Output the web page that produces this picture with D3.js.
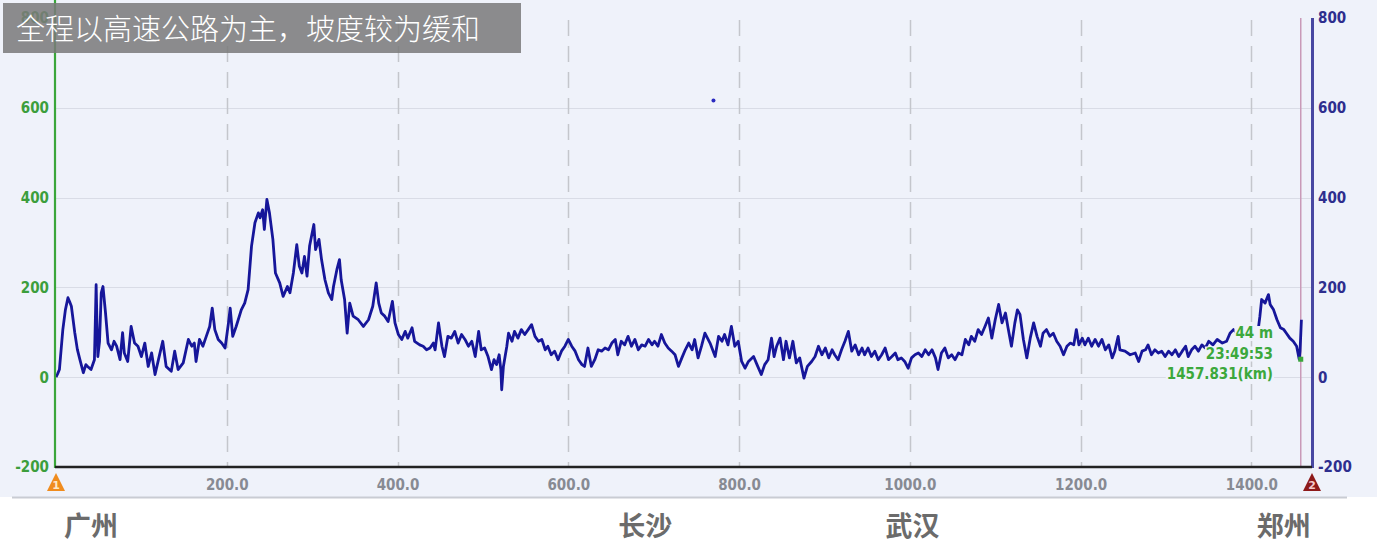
<!DOCTYPE html>
<html>
<head>
<meta charset="utf-8">
<script src="https://cdn.jsdelivr.net/npm/d3@7"></script>
<style>
  html, body { margin: 0; padding: 0; background: #fff; }
  svg { display: block; }
</style>
</head>
<body>
<svg id="chart" width="1377" height="560"></svg>
<script>
// elevation profile: distance (km) and height (m)
const profileKm = [0,2,4,8,11,14,16,18,22,25,28,32,35,37,41,45,46,47,48,49,51,53,55,58,61,65,68,71,75,78,80,84,88,92,96,100,104,108,112,116,120,125,129,135,139,143,149,155,159,162,164,168,172,176,180,183,186,190,194,198,202,204,207,211,217,221,225,229,233,237,239,242,244,247,250,254,257,262,266,271,274,278,282,285,288,291,294,297,302,304,308,311,315,319,323,325,329,332,334,338,341,344,348,354,360,366,371,375,378,381,385,389,394,397,401,405,409,412,417,420,426,430,434,438,442,444,448,452,455,459,463,467,471,475,479,483,487,491,495,498,502,506,510,513,516,519,521,522,524,528,530,534,537,541,545,549,553,557,561,565,569,573,576,580,584,588,592,596,600,604,608,612,616,619,623,627,631,635,639,643,647,651,655,658,662,666,670,674,678,682,686,690,694,698,701,705,709,713,717,721,725,729,733,737,741,745,748,752,756,760,766,772,776,780,783,787,791,795,799,803,807,811,817,821,826,830,834,838,841,844,848,852,855,859,863,867,871,876,880,885,889,893,897,901,905,909,912,916,920,924,928,932,936,940,944,947,951,955,959,963,967,971,975,979,983,986,990,994,998,1002,1006,1010,1014,1018,1022,1026,1030,1033,1037,1041,1045,1049,1053,1057,1061,1065,1069,1072,1076,1080,1084,1088,1092,1096,1100,1104,1108,1112,1115,1119,1123,1126,1129,1133,1137,1141,1145,1149,1153,1156,1160,1164,1168,1172,1176,1180,1184,1188,1192,1195,1198,1202,1205,1209,1213,1217,1221,1225,1229,1233,1237,1240,1244,1246,1252,1258,1264,1268,1272,1276,1279,1283,1287,1291,1295,1299,1303,1307,1311,1315,1319,1323,1326,1330,1334,1338,1342,1346,1350,1355,1360,1366,1371,1375,1379,1385,1391,1397,1403,1408,1410,1412,1416,1420,1422,1426,1430,1434,1438,1441,1445,1449,1453,1456,1457,1458.6];
const profileM = [0,8,17,106,150,177,168,158,99,62,39,10,28,24,17,39,120,206,120,46,80,188,202,143,76,61,80,69,39,99,54,35,113,76,69,46,76,24,54,6,39,80,24,13,58,17,32,84,69,76,35,84,69,91,113,154,106,84,76,65,121,154,91,113,150,165,195,292,344,366,355,373,329,396,366,307,232,210,180,202,188,232,295,247,232,269,225,292,340,284,307,262,217,188,173,202,240,262,217,173,98,165,136,128,113,128,158,210,165,143,136,124,169,121,95,84,102,87,110,80,72,69,61,65,76,61,121,69,46,91,87,102,76,95,84,69,80,46,102,61,65,46,17,39,28,50,17,-28,24,69,98,80,102,87,106,95,106,117,91,80,84,61,69,50,58,39,58,69,84,69,58,39,28,24,65,24,39,61,58,65,61,76,84,50,80,72,91,69,84,61,72,69,84,72,80,69,95,76,65,58,50,24,43,61,76,61,84,43,69,98,76,46,91,80,95,72,113,69,80,35,20,35,46,28,6,28,39,87,46,69,87,39,80,43,80,32,43,-2,24,35,46,69,50,65,43,61,50,39,61,80,102,58,72,50,65,50,65,46,58,39,50,65,39,46,54,39,43,35,20,43,50,54,46,61,50,61,43,17,54,65,43,50,39,54,50,84,72,91,80,106,95,113,132,87,128,162,121,143,110,69,121,150,140,84,43,87,121,91,69,98,106,91,98,80,69,50,69,76,72,106,72,87,72,87,69,84,69,84,61,72,43,58,91,61,58,50,54,35,58,61,72,50,61,54,58,46,58,50,61,46,58,69,46,61,69,58,72,65,80,72,84,76,80,98,106,95,102,98,110,106,136,173,165,184,162,150,128,110,106,98,87,80,69,40,58,128];

const xTicks = [200, 400, 600, 800, 1000, 1200, 1400];
const yTicks = [-200, 0, 200, 400, 600, 800];
const cityNames = ["广州", "长沙", "武汉", "郑州"];
const cityKm = [41, 690, 1003, 1438];
const strayPoint = [770, 616];
const endPoint = [1457.831, 40];
const endLabels = ["44 m", "23:49:53", "1457.831(km)"];
const title = "全程以高速公路为主，坡度较为缓和";

const svg = d3.select("#chart");
const x = d3.scaleLinear().domain([0, 1471]).range([56, 1312]);
const y = d3.scaleLinear().domain([-200, 800]).range([467, 18]);
const numFont = "bold 15px 'DejaVu Sans Condensed', 'DejaVu Sans', sans-serif";

// panel background
svg.append("rect").attr("x", 0).attr("y", 0).attr("width", 1377).attr("height", 497)
  .attr("fill", "#eff2fa");
svg.append("line").attr("x1", 12).attr("x2", 1347).attr("y1", 497.5).attr("y2", 497.5)
  .attr("stroke", "#c9ccd3").attr("stroke-width", 2);

// grid
svg.append("g").selectAll("line").data(yTicks.filter(d => d > -200 && d < 800)).enter()
  .append("line")
  .attr("x1", x(0)).attr("x2", 1312)
  .attr("y1", d => Math.round(y(d)) + 0.5).attr("y2", d => Math.round(y(d)) + 0.5)
  .attr("stroke", "#d9dce6").attr("stroke-width", 1);

svg.append("g").selectAll("line").data(xTicks).enter()
  .append("line")
  .attr("x1", d => Math.round(x(d)) + 0.5).attr("x2", d => Math.round(x(d)) + 0.5)
  .attr("y1", 20).attr("y2", 467)
  .attr("stroke", "#c4c6cc").attr("stroke-width", 1.5)
  .attr("stroke-dasharray", "16,10");

// end marker line
svg.append("line").attr("x1", x(endPoint[0])).attr("x2", x(endPoint[0]))
  .attr("y1", 18).attr("y2", 467).attr("stroke", "#c99ab8").attr("stroke-width", 1.5);

// profile
const line = d3.line().x((d, i) => x(profileKm[i])).y(d => y(d));
svg.append("path").datum(profileM)
  .attr("d", line)
  .attr("fill", "none").attr("stroke", "#16169a").attr("stroke-width", 2.8)
  .attr("stroke-linejoin", "round");

svg.append("circle").attr("cx", x(strayPoint[0])).attr("cy", y(strayPoint[1])).attr("r", 2)
  .attr("fill", "#2a2ac0");

// axes
const leftAxis = d3.axisLeft(y).tickValues(yTicks).tickSize(0).tickPadding(6)
  .tickFormat(d => String(d));
const gl = svg.append("g").attr("transform", "translate(55,0)").call(leftAxis);
gl.select(".domain").remove();
gl.selectAll("text").attr("fill", "#3c9e3c").style("font", numFont);
svg.append("line").attr("x1", 55).attr("x2", 55).attr("y1", 0).attr("y2", 468)
  .attr("stroke", "#3aa63a").attr("stroke-width", 2.2);

const rightAxis = d3.axisRight(y).tickValues(yTicks).tickSize(0).tickPadding(6)
  .tickFormat(d => String(d));
const gr = svg.append("g").attr("transform", "translate(1312,0)").call(rightAxis);
gr.select(".domain").remove();
gr.selectAll("text").attr("fill", "#2e2e8e").style("font", numFont);
svg.append("line").attr("x1", 1312.5).attr("x2", 1312.5).attr("y1", 18).attr("y2", 468)
  .attr("stroke", "#4848a2").attr("stroke-width", 3);

const bottomAxis = d3.axisBottom(x).tickValues(xTicks).tickSize(0).tickPadding(12)
  .tickFormat(d3.format(".1f"));
const gb = svg.append("g").attr("transform", "translate(0,467)").call(bottomAxis);
gb.select(".domain").remove();
gb.selectAll("text").attr("fill", "#878a93").style("font", numFont);
svg.append("line").attr("x1", 55).attr("x2", 1312).attr("y1", 467).attr("y2", 467)
  .attr("stroke", "#222").attr("stroke-width", 2.5);

// start / end flags
function flag(cx, fill, label, txtFill) {
  svg.append("path")
    .attr("d", `M${cx},473 L${cx + 9},491 L${cx - 9},491 Z`)
    .attr("fill", fill);
  svg.append("text").attr("x", cx).attr("y", 489).attr("text-anchor", "middle")
    .attr("fill", txtFill)
    .style("font", "bold 11px 'DejaVu Sans', sans-serif").text(label);
}
flag(x(0), "#f08c1e", "1", "#fde8c8");
flag(1312, "#8e1a1a", "2", "#f3c9c9");

// end readout
svg.append("rect").attr("x", x(endPoint[0]) - 2.5).attr("y", y(endPoint[1]) - 2.5)
  .attr("width", 5).attr("height", 5).attr("fill", "#3aa63a");
const labelG = svg.append("g");
endLabels.forEach((t, i) => {
  const txt = labelG.append("text")
    .attr("x", 1273).attr("y", 338 + i * 20.5)
    .attr("text-anchor", "end").attr("fill", "#3ca83c")
    .style("font", numFont)
    .text(t);
  const b = txt.node().getBBox();
  labelG.insert("rect", () => txt.node())
    .attr("x", b.x - 1).attr("y", b.y + 2).attr("width", b.width + 2).attr("height", b.height - 3)
    .attr("fill", "#eff2fa");
});

// city names
svg.append("g").selectAll("text").data(cityNames).enter()
  .append("text")
  .attr("x", (d, i) => x(cityKm[i])).attr("y", 536)
  .attr("text-anchor", "middle").attr("fill", "#6b6b6b")
  .style("font", "bold 27px 'Noto Sans CJK SC', sans-serif")
  .text(d => d);

// title box
svg.append("rect").attr("x", 3).attr("y", 3).attr("width", 518).attr("height", 50)
  .attr("fill", "rgba(122,122,122,0.86)");
svg.append("text").attr("x", 16).attr("y", 40).attr("fill", "#fff")
  .style("font", "300 29px 'Noto Sans CJK SC', sans-serif")
  .text(title);
</script>
</body>
</html>
